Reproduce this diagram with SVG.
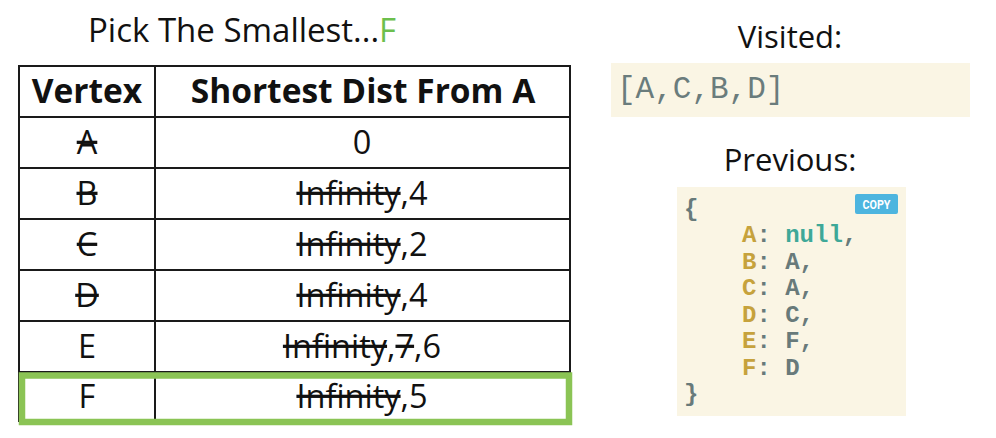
<svg xmlns="http://www.w3.org/2000/svg" width="996" height="438" viewBox="0 0 996 438">
  <style>
    .sans { font-family: "Open Sans", "Noto Sans", "Liberation Sans", sans-serif; fill: #111; }
    .hdr { font-size: 33.5px; font-weight: bold; text-anchor: middle; }
    .cell { font-size: 32.5px; text-anchor: middle; }
    .strike { text-decoration: line-through; }
    .grid { stroke: #1a1a1a; stroke-width: 2; fill: none; }
    .mono { font-family: "Liberation Mono", "DejaVu Sans Mono", monospace; }
    .code { font-size: 24px; font-weight: bold; fill: #687a7a; }
    .key { fill: #c6a23c; }
    .nul { fill: #3ea898; }
    .panel { fill: #faf5e4; }
  </style>
  <rect width="996" height="438" fill="#ffffff"/>

  <g id="title">
    <text class="sans" x="88" y="42" font-size="33">Pick The Smallest...<tspan fill="#6cbf4e">F</tspan></text>
  </g>

  <g id="table">
    <rect class="grid" x="19" y="66" width="551" height="355"/>
    <g id="connectors">
      <line class="grid" x1="155" y1="66" x2="155" y2="421"/>
      <line class="grid" x1="19" y1="117" x2="570" y2="117"/>
      <line class="grid" x1="19" y1="168" x2="570" y2="168"/>
      <line class="grid" x1="19" y1="219" x2="570" y2="219"/>
      <line class="grid" x1="19" y1="270" x2="570" y2="270"/>
      <line class="grid" x1="19" y1="321" x2="570" y2="321"/>
      <line class="grid" x1="19" y1="372" x2="570" y2="372"/>
    </g>
    <g id="header">
      <text class="sans hdr" x="87" y="103">Vertex</text>
      <text class="sans hdr" x="363" y="103">Shortest Dist From A</text>
    </g>
    <g id="row-A">
      <text class="sans cell strike" x="87" y="154">A</text>
      <text class="sans cell" x="362" y="154">0</text>
    </g>
    <g id="row-B">
      <text class="sans cell strike" x="87" y="205">B</text>
      <text class="sans cell" x="362" y="205"><tspan class="strike">Infinity</tspan>,4</text>
    </g>
    <g id="row-C">
      <text class="sans cell strike" x="87" y="256">C</text>
      <text class="sans cell" x="362" y="256"><tspan class="strike">Infinity</tspan>,2</text>
    </g>
    <g id="row-D">
      <text class="sans cell strike" x="87" y="307">D</text>
      <text class="sans cell" x="362" y="307"><tspan class="strike">Infinity</tspan>,4</text>
    </g>
    <g id="row-E">
      <text class="sans cell" x="87" y="358">E</text>
      <text class="sans cell" x="362" y="358"><tspan class="strike">Infinity</tspan>,<tspan class="strike">7</tspan>,6</text>
    </g>
    <g id="row-F">
      <text class="sans cell" x="87" y="408">F</text>
      <text class="sans cell" x="362" y="408"><tspan class="strike">Infinity</tspan>,5</text>
      <rect x="22" y="375.5" width="547" height="46.5" fill="none" stroke="#8bc455" stroke-width="6.5"/>
    </g>
  </g>

  <g id="visited">
    <text class="sans" x="790" y="48" font-size="31" text-anchor="middle">Visited:</text>
    <rect class="panel" x="611" y="63" width="359" height="54"/>
    <text class="mono" x="617" y="98" font-size="31" fill="#6a7c7c">[A,C,B,D]</text>
  </g>

  <g id="previous">
    <text class="sans" x="790" y="171" font-size="31" text-anchor="middle">Previous:</text>
    <rect class="panel" x="677" y="187" width="229" height="229"/>
    <g id="copy-button">
      <rect x="855" y="194" width="43" height="20" rx="2" fill="#4db5df"/>
      <text x="876.5" y="208.5" font-family="Roboto, 'Liberation Sans', sans-serif" font-size="12" font-weight="bold" fill="#ffffff" text-anchor="middle" textLength="28" lengthAdjust="spacingAndGlyphs">COPY</text>
    </g>
    <text class="mono code" x="684" y="216">{</text>
    <text class="mono code" x="742" y="242"><tspan class="key">A</tspan>: <tspan class="nul">null</tspan>,</text>
    <text class="mono code" x="742" y="268.5"><tspan class="key">B</tspan>: A,</text>
    <text class="mono code" x="742" y="295"><tspan class="key">C</tspan>: A,</text>
    <text class="mono code" x="742" y="321.5"><tspan class="key">D</tspan>: C,</text>
    <text class="mono code" x="742" y="348"><tspan class="key">E</tspan>: F,</text>
    <text class="mono code" x="742" y="374.5"><tspan class="key">F</tspan>: D</text>
    <text class="mono code" x="684" y="401">}</text>
  </g>
</svg>
